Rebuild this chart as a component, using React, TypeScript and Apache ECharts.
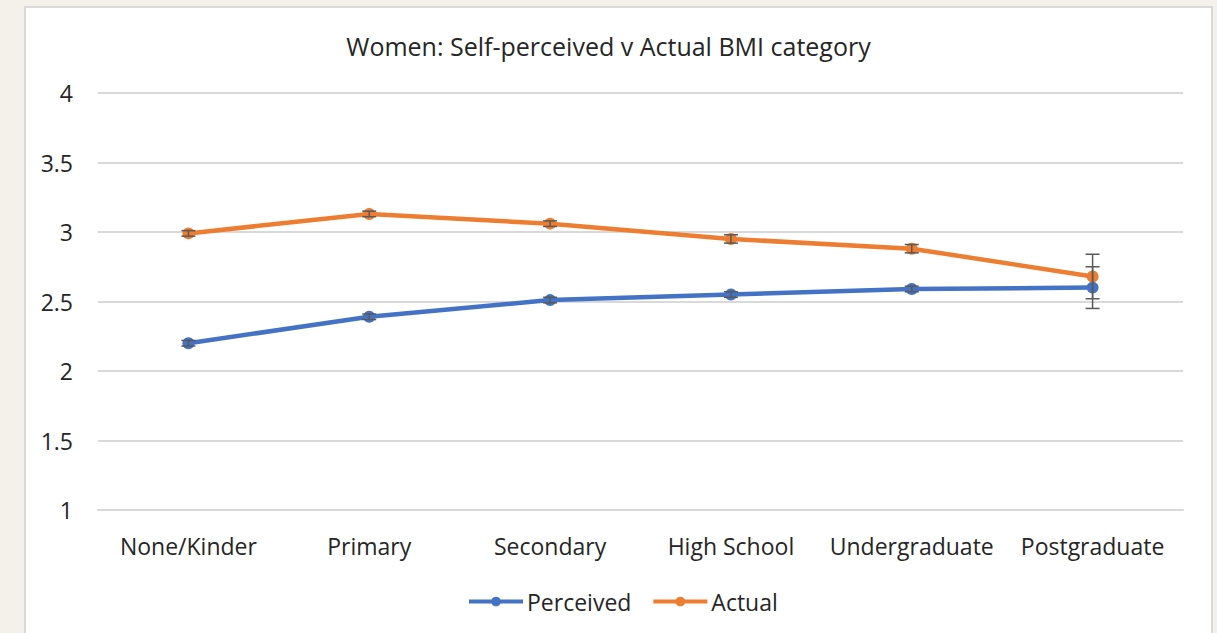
import React, { useEffect, useRef } from "react";
import * as echarts from "echarts";

const categories = ["None/Kinder", "Primary", "Secondary", "High School", "Undergraduate", "Postgraduate"];
const perceived = [2.2, 2.39, 2.51, 2.55, 2.59, 2.6];
const actual = [2.99, 3.13, 3.06, 2.95, 2.88, 2.68];
const perceivedErr = [0.02, 0.02, 0.02, 0.02, 0.02, 0.15];
const actualErr = [0.02, 0.02, 0.02, 0.03, 0.03, 0.16];
const yTicks = [1, 1.5, 2, 2.5, 3, 3.5, 4];

const BLUE = "#4472c4";
const ORANGE = "#ed7d31";
const FONT = "'Open Sans', 'Noto Sans', sans-serif";

function errSeries(name: string, values: number[], errs: number[]) {
  return {
    type: "custom",
    name: name + " err",
    z: 5,
    data: values.map((v, i) => [i, v - errs[i], v + errs[i]]),
    renderItem: (params: any, api: any) => {
      const x = api.value(0);
      const lo = api.coord([x, api.value(1)]);
      const hi = api.coord([x, api.value(2)]);
      const cap = 7;
      const style = { stroke: "#595959", lineWidth: 1.5 };
      return {
        type: "group",
        children: [
          { type: "line", shape: { x1: lo[0], y1: lo[1], x2: hi[0], y2: hi[1] }, style },
          { type: "line", shape: { x1: lo[0] - cap, y1: lo[1], x2: lo[0] + cap, y2: lo[1] }, style },
          { type: "line", shape: { x1: hi[0] - cap, y1: hi[1], x2: hi[0] + cap, y2: hi[1] }, style },
        ],
      };
    },
  };
}

export default function App() {
  const ref = useRef<HTMLDivElement>(null);
  useEffect(() => {
    if (!ref.current) return;
    const chart = echarts.init(ref.current, undefined, { renderer: "svg" });
    chart.setOption({
      animation: false,
      backgroundColor: "#f4f1eb",
      graphic: [
        {
          type: "rect",
          z: -10,
          shape: { x: 25, y: 7, width: 1187, height: 640 },
          style: { fill: "#ffffff", stroke: "#d9d9d9", lineWidth: 2 },
        },
      ],
      title: {
        text: "Women: Self-perceived v Actual BMI category",
        left: "center",
        top: 28,
        textStyle: { fontFamily: FONT, fontSize: 25, fontWeight: "normal", color: "#262626" },
      },
      legend: {
        bottom: 20,
        left: 467,
        padding: 0,
        itemWidth: 54,
        itemHeight: 12,
        itemGap: 20,
        lineStyle: { width: 4 },
        textStyle: { fontFamily: FONT, fontSize: 23, color: "#262626", padding: [0, 0, 0, -1] },
        data: ["Perceived", "Actual"],
      },
      grid: { left: 98, right: 34, top: 93, bottom: 123 },
      xAxis: {
        type: "category",
        data: categories,
        boundaryGap: true,
        axisLine: { lineStyle: { color: "#d9d9d9", width: 2 } },
        axisTick: { show: false },
        axisLabel: { fontFamily: FONT, fontSize: 23, color: "#262626", margin: 24, interval: 0 },
      },
      yAxis: {
        type: "value",
        min: yTicks[0],
        max: yTicks[yTicks.length - 1],
        interval: 0.5,
        axisLine: { show: false },
        axisTick: { show: false },
        splitLine: { lineStyle: { color: "#d9d9d9", width: 2 } },
        axisLabel: { fontFamily: FONT, fontSize: 23, color: "#262626", margin: 25 },
      },
      series: [
        errSeries("Perceived", perceived, perceivedErr),
        errSeries("Actual", actual, actualErr),
        {
          name: "Perceived",
          type: "line",
          data: perceived,
          z: 3,
          symbol: "circle",
          symbolSize: 12,
          itemStyle: { color: BLUE },
          lineStyle: { color: BLUE, width: 4.5 },
        },
        {
          name: "Actual",
          type: "line",
          data: actual,
          z: 4,
          symbol: "circle",
          symbolSize: 12,
          itemStyle: { color: ORANGE },
          lineStyle: { color: ORANGE, width: 4.5 },
        },
      ],
    });
    return () => chart.dispose();
  }, []);
  return <div ref={ref} style={{ position: "fixed", left: 0, top: 0, width: 1217, height: 633 }} />;
}
